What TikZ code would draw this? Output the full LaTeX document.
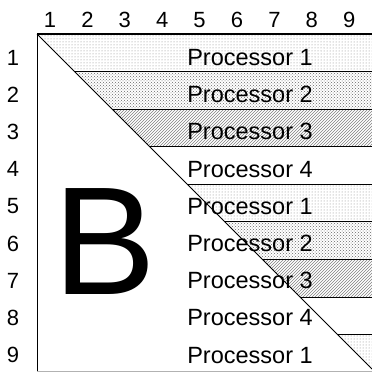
\documentclass[tikz,border=0pt]{standalone}
\usepackage{fontspec}
\setmainfont{Liberation Sans}
\usepackage{tikz}
\usetikzlibrary{patterns}

\tikzset{
  idx/.style={inner sep=0pt, font=\fontsize{22}{22}\selectfont},
  proc/.style={inner sep=0pt, font=\fontsize{23.5}{23.5}\selectfont},
  bandline/.style={line width=0.8pt, black},
  pone/.style={pattern=dots, pattern color=gray},
  ptwo/.style={pattern=crosshatch dots, pattern color=black!60},
  pthree/.style={pattern=north east lines, pattern color=gray}
}

\begin{document}
\begin{tikzpicture}[x=1pt,y=-1pt]
			\useasboundingbox (0,0) rectangle (372,372);

			%% shaded bands
			\fill[pone] (37,34) -- (372,34) -- (372,71.6) -- (74.6,71.6) -- cycle;
			\fill[ptwo] (74.6,71.6) -- (372,71.6) -- (372,109.1) -- (112.1,109.1) -- cycle;
			\fill[pthree] (112.1,109.1) -- (372,109.1) -- (372,146.7) -- (149.7,146.7) -- cycle;
			\fill[pone] (187.2,184.2) -- (372,184.2) -- (372,221.8) -- (224.8,221.8) -- cycle;
			\fill[ptwo] (224.8,221.8) -- (372,221.8) -- (372,259.3) -- (262.3,259.3) -- cycle;
			\fill[pthree] (262.3,259.3) -- (372,259.3) -- (372,296.9) -- (299.9,296.9) -- cycle;
			\fill[pone] (337.4,334.4) -- (372,334.4) -- (372,369) -- cycle;

			%% frame and row lines
			\draw[line width=1.6pt] (37,34) -- (372,34);
			\draw[line width=1pt] (37,34) -- (37,372);
			\draw[line width=0.8pt, black!30] (37,371) -- (372,371);
			\draw[line width=0.8pt] (37,34) -- (372,369);
			\draw[bandline] (74.6,71.6) -- (372,71.6);
			\draw[bandline] (112.1,109.1) -- (372,109.1);
			\draw[bandline] (149.7,146.7) -- (372,146.7);
			\draw[bandline] (187.2,184.2) -- (372,184.2);
			\draw[bandline] (224.8,221.8) -- (372,221.8);
			\draw[bandline] (262.3,259.3) -- (372,259.3);
			\draw[bandline] (299.9,296.9) -- (372,296.9);
			\draw[bandline] (337.4,334.4) -- (372,334.4);

			%% column numbers
			\node[idx] (c1) at (50,20) {1};
			\node[idx] (c2) at (87.4,20) {2};
			\node[idx] (c3) at (124.8,20) {3};
			\node[idx] (c4) at (162.2,20) {4};
			\node[idx] (c5) at (199.6,20) {5};
			\node[idx] (c6) at (237,20) {6};
			\node[idx] (c7) at (274.4,20) {7};
			\node[idx] (c8) at (311.8,20) {8};
			\node[idx] (c9) at (349.2,20) {9};

			%% row numbers
			\node[idx] (r1) at (13,57.5) {1};
			\node[idx] (r2) at (13,94.7) {2};
			\node[idx] (r3) at (13,131.9) {3};
			\node[idx] (r4) at (13,169.1) {4};
			\node[idx] (r5) at (13,206.3) {5};
			\node[idx] (r6) at (13,243.5) {6};
			\node[idx] (r7) at (13,280.7) {7};
			\node[idx] (r8) at (13,317.9) {8};
			\node[idx] (r9) at (13,355.1) {9};

			%% processors
			\node[proc] (p1) at (250,57.5) {Processor 1};
			\node[proc] (p2) at (250,94.7) {Processor 2};
			\node[proc] (p3) at (250,131.9) {Processor 3};
			\node[proc] (p4) at (250,169.1) {Processor 4};
			\node[proc] (p5) at (250,206.3) {Processor 1};
			\node[proc] (p6) at (250,243.5) {Processor 2};
			\node[proc] (p7) at (250,280.7) {Processor 3};
			\node[proc] (p8) at (250,317.9) {Processor 4};
			\node[proc] (p9) at (250,355.1) {Processor 1};

			\node[inner sep=0pt, font=\fontsize{154}{154}\selectfont] (blk) at (105,242) {B};
		\end{tikzpicture}
\end{document}
